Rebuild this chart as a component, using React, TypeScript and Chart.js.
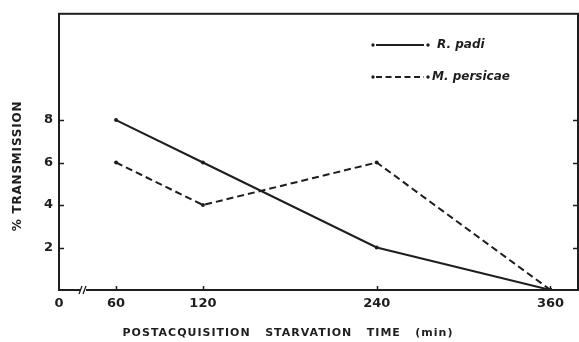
import React, { useEffect, useRef } from "react";
import { Chart, registerables } from "chart.js";

Chart.register(...registerables);

// ---- data ----
const xValues = [60, 120, 240, 360];
const rPadi = [8, 6, 2, 0];
const mPersicae = [6, 4, 6, 0];
const seriesNames = ["R. padi", "M. persicae"];
const xTickValues = [60, 120, 240, 360];
const yTickValues = [2, 4, 6, 8];
const xBreakLabel = "0";
const xTitle = "POSTACQUISITION   STARVATION   TIME   (min)";
const yTitle = "% TRANSMISSION";

const X_MIN = 20.6; // axis origin shown as "0" (broken axis)
const X_MAX = 379;
const Y_MIN = 0;
const Y_MAX = 13;

const INK = "#1e1e1e";
const FONT = "'DejaVu Sans', sans-serif";

const decorPlugin = {
  id: "decor",
  afterDraw(chart: any) {
    const { ctx, chartArea, scales } = chart;
    const { left, right, top, bottom } = chartArea;
    const xs = scales.x;
    const ys = scales.y;
    ctx.save();
    ctx.strokeStyle = INK;
    ctx.fillStyle = INK;
    ctx.lineWidth = 2;
    ctx.strokeRect(left, top, right - left, bottom - top);

    // inside tick marks on y (left & right)
    ctx.lineWidth = 1.5;
    for (const v of yTickValues) {
      const py = Math.round(ys.getPixelForValue(v)) + 0.5;
      ctx.beginPath();
      ctx.moveTo(left, py);
      ctx.lineTo(left + 5, py);
      ctx.moveTo(right - 5, py);
      ctx.lineTo(right, py);
      ctx.stroke();
    }
    // x tick marks pointing up
    for (const v of xTickValues) {
      const px = Math.round(xs.getPixelForValue(v)) + 0.5;
      ctx.beginPath();
      ctx.moveTo(px, bottom);
      ctx.lineTo(px, bottom - 4);
      ctx.stroke();
    }
    // axis break
    const bx = left + 24;
    ctx.fillStyle = "#ffffff";
    ctx.fillRect(bx - 2, bottom - 2, 5, 4);
    ctx.lineWidth = 1.3;
    ctx.beginPath();
    ctx.moveTo(bx - 4, bottom + 4);
    ctx.lineTo(bx - 1, bottom - 4);
    ctx.moveTo(bx + 0, bottom + 4);
    ctx.lineTo(bx + 3, bottom - 4);
    ctx.stroke();

    // legend
    const legendY = [45, 77];
    const dashes = [[], [6, 3.5]];
    const textX = [437, 432];
    ctx.fillStyle = INK;
    ctx.font = `italic bold 12px ${FONT}`;
    ctx.textBaseline = "middle";
    ctx.textAlign = "left";
    for (let i = 0; i < 2; i++) {
      const y = legendY[i];
      ctx.setLineDash(dashes[i]);
      ctx.lineWidth = 2;
      ctx.beginPath();
      ctx.moveTo(376, y);
      ctx.lineTo(424, y);
      ctx.stroke();
      ctx.setLineDash([]);
      ctx.beginPath();
      ctx.arc(373, y, 1.7, 0, Math.PI * 2);
      ctx.arc(428, y, 1.7, 0, Math.PI * 2);
      ctx.fill();
      ctx.fillText(seriesNames[i], textX[i], y);
    }

    // x title
    ctx.font = `bold 11px ${FONT}`;
    (ctx as any).letterSpacing = "1px";
    ctx.textAlign = "center";
    ctx.textBaseline = "middle";
    ctx.fillText(xTitle, 288, 333);

    // y title
    ctx.translate(18, 166);
    ctx.rotate(-Math.PI / 2);
    ctx.font = `bold 12px ${FONT}`;
    (ctx as any).letterSpacing = "0.8px";
    ctx.fillText(yTitle, 0, 0);
    ctx.restore();
  },
};

export default function App() {
  const ref = useRef<HTMLCanvasElement>(null);
  useEffect(() => {
    if (!ref.current) return;
    const makeDs = (label: string, vals: number[], dash: number[]) => ({
      label,
      data: xValues.map((x, i) => ({ x, y: vals[i] })),
      borderColor: INK,
      borderWidth: 2,
      borderDash: dash,
      pointRadius: 2,
      pointBackgroundColor: INK,
      pointBorderWidth: 0,
      tension: 0,
      fill: false,
    });
    const chart = new Chart(ref.current, {
      type: "line",
      data: {
        datasets: [
          makeDs(seriesNames[0], rPadi, []),
          makeDs(seriesNames[1], mPersicae, [7, 4]),
        ],
      },
      options: {
        responsive: false,
        animation: false,
        layout: { autoPadding: false, padding: { top: 11, right: 1, left: 0, bottom: 0 } },
        plugins: { legend: { display: false }, tooltip: { enabled: false } },
        scales: {
          x: {
            type: "linear",
            min: X_MIN,
            max: X_MAX,
            afterBuildTicks: (s: any) => {
              s.ticks = [X_MIN, ...xTickValues].map((v) => ({ value: v }));
            },
            afterFit: (s: any) => {
              s.height = 52;
            },
            ticks: {
              autoSkip: false,
              maxRotation: 0,
              padding: 6,
              color: INK,
              font: { family: FONT, weight: "bold", size: 13 },
              callback: (v: any) => (v === X_MIN ? xBreakLabel : String(v)),
            },
            grid: { display: false, drawTicks: false },
            border: { display: false },
          },
          y: {
            min: Y_MIN,
            max: Y_MAX,
            afterBuildTicks: (s: any) => {
              s.ticks = yTickValues.map((v) => ({ value: v }));
            },
            afterFit: (s: any) => {
              s.width = 59;
            },
            ticks: {
              padding: 6,
              color: INK,
              font: { family: FONT, weight: "bold", size: 13 },
            },
            grid: { display: false, drawTicks: false },
            border: { display: false },
          },
        },
      },
      plugins: [decorPlugin],
    } as any);
    return () => chart.destroy();
  }, []);
  return (
    <div style={{ position: "absolute", left: 0, top: 0, width: 579, height: 342, background: "#fff" }}>
      <canvas ref={ref} width={579} height={342} />
    </div>
  );
}
